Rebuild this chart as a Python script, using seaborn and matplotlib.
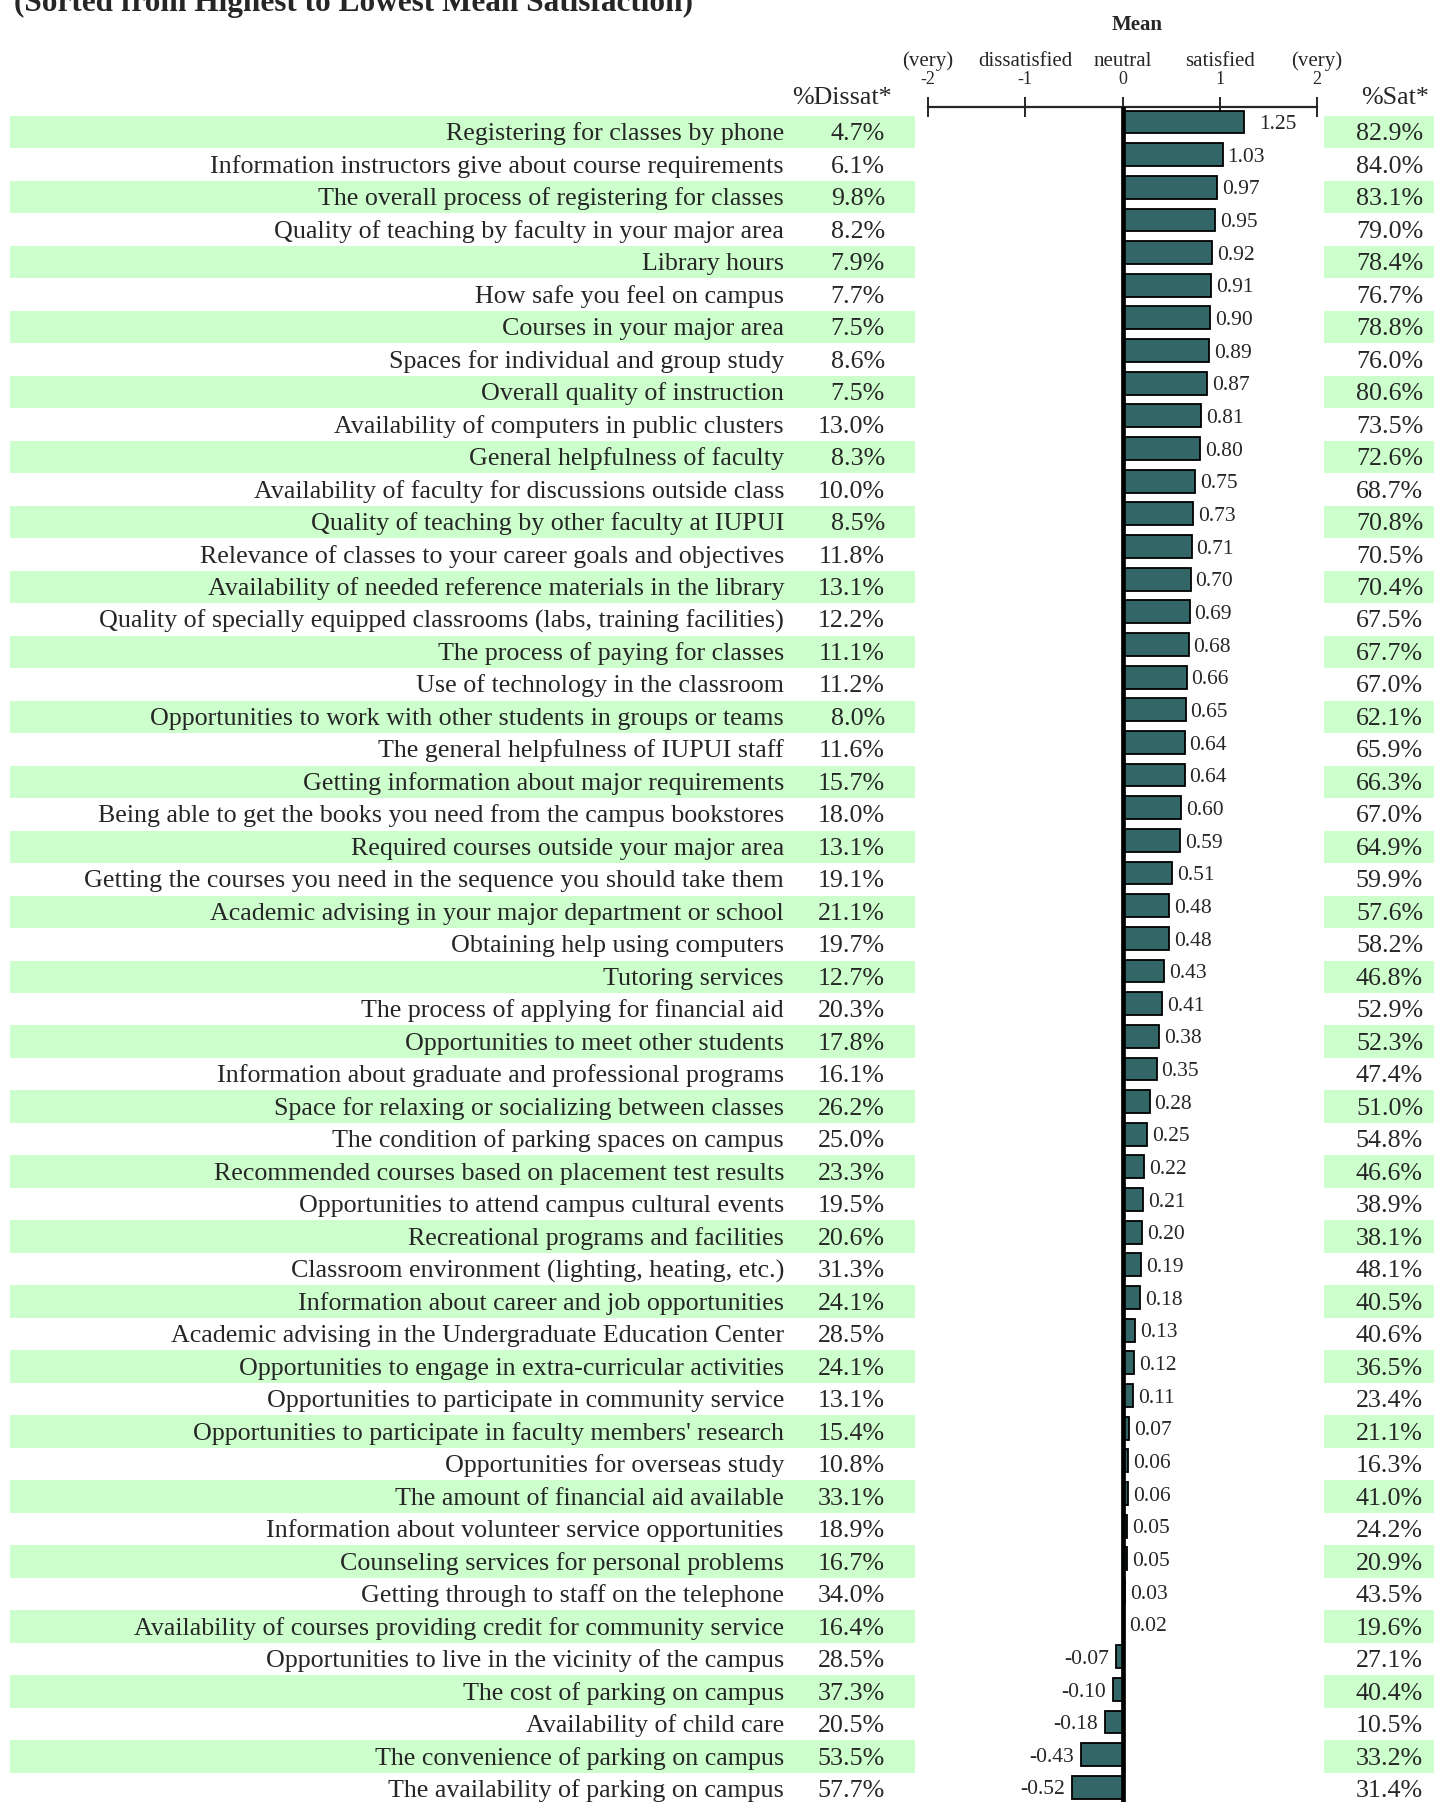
import numpy as np
import pandas as pd
import matplotlib.pyplot as plt
import matplotlib.transforms as mtransforms
from matplotlib.patches import Rectangle
import seaborn as sns

# --- DATA ---
items = [
    "Registering for classes by phone",
    "Information instructors give about course requirements",
    "The overall process of registering for classes",
    "Quality of teaching by faculty in your major area",
    "Library hours",
    "How safe you feel on campus",
    "Courses in your major area",
    "Spaces for individual and group study",
    "Overall quality of instruction",
    "Availability of computers in public clusters",
    "General helpfulness of faculty",
    "Availability of faculty for discussions outside class",
    "Quality of teaching by other faculty at IUPUI",
    "Relevance of classes to your career goals and objectives",
    "Availability of needed reference materials in the library",
    "Quality of specially equipped classrooms (labs, training facilities)",
    "The process of paying for classes",
    "Use of technology in the classroom",
    "Opportunities to work with other students in groups or teams",
    "The general helpfulness of IUPUI staff",
    "Getting information about major requirements",
    "Being able to get the books you need from the campus bookstores",
    "Required courses outside your major area",
    "Getting the courses you need in the sequence you should take them",
    "Academic advising in your major department or school",
    "Obtaining help using computers",
    "Tutoring services",
    "The process of applying for financial aid",
    "Opportunities to meet other students",
    "Information about graduate and professional programs",
    "Space for relaxing or socializing between classes",
    "The condition of parking spaces on campus",
    "Recommended courses based on placement test results",
    "Opportunities to attend campus cultural events",
    "Recreational programs and facilities",
    "Classroom environment (lighting, heating, etc.)",
    "Information about career and job opportunities",
    "Academic advising in the Undergraduate Education Center",
    "Opportunities to engage in extra-curricular activities",
    "Opportunities to participate in community service",
    "Opportunities to participate in faculty members' research",
    "Opportunities for overseas study",
    "The amount of financial aid available",
    "Information about volunteer service opportunities",
    "Counseling services for personal problems",
    "Getting through to staff on the telephone",
    "Availability of courses providing credit for community service",
    "Opportunities to live in the vicinity of the campus",
    "The cost of parking on campus",
    "Availability of child care",
    "The convenience of parking on campus",
    "The availability of parking on campus",
]

pct_dissat = [4.7, 6.1, 9.8, 8.2, 7.9, 7.7, 7.5, 8.6, 7.5, 13.0,
              8.3, 10.0, 8.5, 11.8, 13.1, 12.2, 11.1, 11.2, 8.0, 11.6,
              15.7, 18.0, 13.1, 19.1, 21.1, 19.7, 12.7, 20.3, 17.8, 16.1,
              26.2, 25.0, 23.3, 19.5, 20.6, 31.3, 24.1, 28.5, 24.1, 13.1,
              15.4, 10.8, 33.1, 18.9, 16.7, 34.0, 16.4, 28.5, 37.3, 20.5,
              53.5, 57.7]

mean_sat = [1.25, 1.03, 0.97, 0.95, 0.92, 0.91, 0.90, 0.89, 0.87, 0.81,
            0.80, 0.75, 0.73, 0.71, 0.70, 0.69, 0.68, 0.66, 0.65, 0.64,
            0.64, 0.60, 0.59, 0.51, 0.48, 0.48, 0.43, 0.41, 0.38, 0.35,
            0.28, 0.25, 0.22, 0.21, 0.20, 0.19, 0.18, 0.13, 0.12, 0.11,
            0.07, 0.06, 0.06, 0.05, 0.05, 0.03, 0.02, -0.07, -0.10, -0.18,
            -0.43, -0.52]

pct_sat = [82.9, 84.0, 83.1, 79.0, 78.4, 76.7, 78.8, 76.0, 80.6, 73.5,
           72.6, 68.7, 70.8, 70.5, 70.4, 67.5, 67.7, 67.0, 62.1, 65.9,
           66.3, 67.0, 64.9, 59.9, 57.6, 58.2, 46.8, 52.9, 52.3, 47.4,
           51.0, 54.8, 46.6, 38.9, 38.1, 48.1, 40.5, 40.6, 36.5, 23.4,
           21.1, 16.3, 41.0, 24.2, 20.9, 43.5, 19.6, 27.1, 40.4, 10.5,
           33.2, 31.4]

scale_ticks = [-2, -1, 0, 1, 2]
scale_words = ["(very)", "dissatisfied", "neutral", "satisfied", "(very)"]
# -------------

W, H = 1434, 1802
BAR_COLOR = "#336666"
SHADE = "#ccffcc"
FS = 18.7

sns.set_style("white")
plt.rcParams["font.family"] = ["Liberation Serif", "DejaVu Serif"]

df = pd.DataFrame({"item": items, "mean": mean_sat})

fig = plt.figure(figsize=(W / 100, H / 100), dpi=100)

# table axes: whole figure, rows in data units
ax_tab = fig.add_axes([0, 0, 1, 1])
ax_tab.set_xlim(0, 1)
ax_tab.set_ylim(51.40, -4.063)
ax_tab.axis("off")
tt = ax_tab.get_yaxis_transform()

# bar axes: -2..2 scale
ax = fig.add_axes([928 / W, 0, (1317 - 928) / W, (H - 107) / H])
ax.set_facecolor("none")

sns.barplot(data=df, x="mean", y="item", order=items, orient="h",
            color=BAR_COLOR, saturation=1, edgecolor="black", linewidth=1.3,
            width=0.7, ax=ax)
ax.set_xlim(-2, 2)
ax.set_ylim(51.45, -0.459)
ax.set_xlabel("")
ax.set_ylabel("")
ax.set_yticks([])
for s in ["left", "right", "bottom"]:
    ax.spines[s].set_visible(False)
ax.spines["top"].set_linewidth(1.6)
ax.xaxis.tick_top()
ax.set_xticks(scale_ticks)
ax.tick_params(axis="x", direction="inout", length=14, width=1.4,
               labeltop=False, labelbottom=False)
ax.axvline(0, color="black", lw=3.4, zorder=5)

# value labels next to bars
for i, v in enumerate(mean_sat):
    if v >= 0:
        gap = 0.16 if i == 0 else 0.05
        ax.text(v + gap, i + 0.22, f"{v:.2f}", ha="left", va="baseline",
                fontsize=15.5)
    else:
        ax.text(v - 0.07, i + 0.22, f"{v:.2f}", ha="right", va="baseline",
                fontsize=15.5)

# scale labels above the axis
tx = mtransforms.blended_transform_factory(ax.transData, fig.transFigure)
for t, w in zip(scale_ticks, scale_words):
    ax.text(t, 1 - 61 / H, w, ha="center", va="center", fontsize=15,
            transform=tx)
    ax.text(t, 1 - 80 / H, str(t), ha="center", va="center", fontsize=13,
            transform=tx)
ax.text(0.15, 1 - 25 / H, "Mean", ha="center", va="center", fontsize=15,
        fontweight="bold", transform=tx)

# shading + table text
for i in range(len(items)):
    if i % 2 == 0:
        ax_tab.add_patch(Rectangle((10 / W, i - 0.5), (915 - 10) / W, 1.0,
                                   transform=tt, color=SHADE, lw=0, zorder=0))
        ax_tab.add_patch(Rectangle((1324 / W, i - 0.5), (W - 1324) / W, 1.0,
                                   transform=tt, color=SHADE, lw=0, zorder=0))
    ax_tab.text(784 / W, i + 0.25, items[i], ha="right", va="baseline",
                fontsize=FS, transform=tt)
    ax_tab.text(885 / W, i + 0.25, f"{pct_dissat[i]:.1f}%", ha="right",
                va="baseline", fontsize=FS, transform=tt)
    ax_tab.text(1423 / W, i + 0.25, f"{pct_sat[i]:.1f}%", ha="right",
                va="baseline", fontsize=FS, transform=tt)

fig.text(892 / W, 1 - 104 / H, "%Dissat*", ha="right", va="baseline",
         fontsize=FS)
fig.text(1429 / W, 1 - 104 / H, "%Sat*", ha="right", va="baseline",
         fontsize=FS)
fig.text(14 / W, 1 - 11 / H, "(Sorted from Highest to Lowest Mean Satisfaction)",
         ha="left", va="baseline", fontsize=22.5, fontweight="bold")

fig.savefig("out.png", dpi=100)
